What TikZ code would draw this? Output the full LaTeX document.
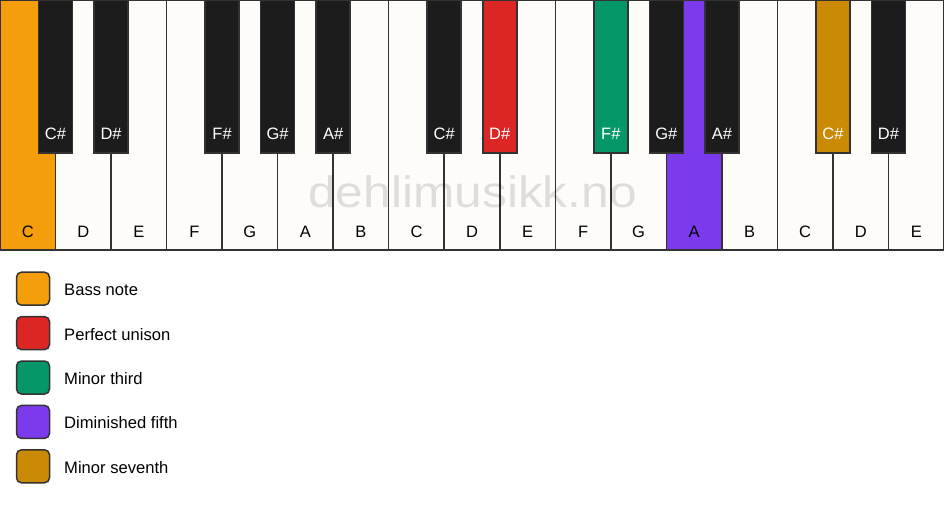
\documentclass[tikz,border=0pt]{standalone}
\usepackage{fontspec}
\setmainfont{Liberation Sans}
\usepackage{tikz}
\usetikzlibrary{positioning}

\definecolor{ivory}{HTML}{FDFCF9}
\definecolor{keyblack}{HTML}{1C1C1C}
\definecolor{edge}{HTML}{333333}
\definecolor{bass}{HTML}{F59E0B}
\definecolor{unison}{HTML}{DC2626}
\definecolor{third}{HTML}{059669}
\definecolor{fifth}{HTML}{7C3AED}
\definecolor{seventh}{HTML}{CA8A04}

\begin{document}
\begin{tikzpicture}[x=1pt,y=-1pt,node distance=11.4pt,
  whitekey/.style={draw=edge,line width=1.5pt,minimum width=55.53pt,minimum height=250pt,
    anchor=north west,inner sep=0pt,outer sep=0pt},
  blackkey/.style={draw=edge,line width=1.5pt,minimum width=34pt,minimum height=153pt,
    anchor=north,inner sep=0pt,outer sep=0pt},
  keylabel/.style={font=\fontsize{16.5}{19}\selectfont,anchor=base,inner sep=0pt},
  swatch/.style={draw=edge,line width=1.5pt,rounded corners=5pt,minimum size=33pt,
    inner sep=0pt,outer sep=0pt},
  legendtext/.style={font=\fontsize{16.6}{19}\selectfont,text height=14pt,text depth=0pt,inner sep=0pt}]
  \useasboundingbox (0,0) rectangle (944,506);
  % White keys
  \foreach \n/\c [count=\i from 0] in {C/bass,D/ivory,E/ivory,F/ivory,G/ivory,A/ivory,B/ivory,
      C/ivory,D/ivory,E/ivory,F/ivory,G/ivory,A/fifth,B/ivory,C/ivory,D/ivory,E/ivory} {
    \node[whitekey,fill=\c] (w\i) at (\i*55.53,0) {};
    \node[keylabel] at ([yshift=13pt]w\i.south) {\n};
  }
  % Watermark
  \node[font=\fontsize{44}{50}\selectfont,text=black,text opacity=0.12,anchor=base,inner sep=0pt]
    (mark) at (472.5,207) {\scalebox{1.13}[1]{dehlimusikk.no}};
  % Black keys
  \foreach \n/\b/\c in {C/1/keyblack,D/2/keyblack,F/4/keyblack,G/5/keyblack,A/6/keyblack,
      C/8/keyblack,D/9/unison,F/11/third,G/12/keyblack,A/13/keyblack,C/15/seventh,D/16/keyblack} {
    \node[blackkey,fill=\c] (b\b) at (\b*55.53,0) {};
    \node[keylabel,text=white] at ([yshift=14pt]b\b.south) {\n\#};
  }
  % Legend
  \node[swatch,fill=bass] (s1) at (33,288.7) {};
  \node[swatch,fill=unison,below=of s1] (s2) {};
  \node[swatch,fill=third,below=of s2] (s3) {};
  \node[swatch,fill=fifth,below=of s3] (s4) {};
  \node[swatch,fill=seventh,below=of s4] (s5) {};
  \node[legendtext,right=14.5pt of s1] (t1) {Bass note};
  \node[legendtext,right=14.5pt of s2] (t2) {Perfect unison};
  \node[legendtext,right=14.5pt of s3] (t3) {Minor third};
  \node[legendtext,right=14.5pt of s4] (t4) {Diminished fifth};
  \node[legendtext,right=14.5pt of s5] (t5) {Minor seventh};
\end{tikzpicture}
\end{document}
